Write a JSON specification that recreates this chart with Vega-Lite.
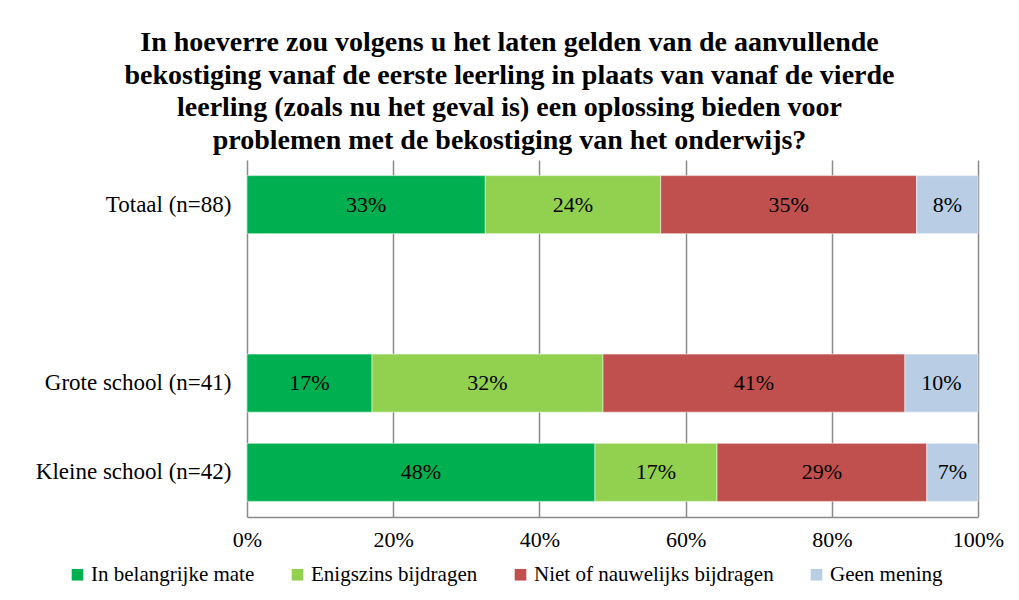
{
  "$schema": "https://vega.github.io/schema/vega-lite/v6.json",
  "width": 731,
  "height": 357,
  "padding": {"left": 5, "top": 28, "right": 5, "bottom": 5},
  "background": "white",
  "config": {
    "font": "Liberation Serif",
    "view": {"stroke": null}
  },
  "title": {
    "text": [
      "In hoeverre zou volgens u het laten gelden van de aanvullende",
      "bekostiging vanaf de eerste leerling in plaats van vanaf de vierde",
      "leerling (zoals nu het geval is) een oplossing bieden voor",
      "problemen met de bekostiging van het onderwijs?"
    ],
    "font": "Liberation Serif",
    "fontSize": 28,
    "fontWeight": "bold",
    "lineHeight": 32.7,
    "color": "#000000",
    "anchor": "middle",
    "frame": "group",
    "dx": -103,
    "offset": 5
  },
  "data": {
    "values": [
      {"groep": "Totaal (n=88)", "antwoord": "In belangrijke mate", "k": 1, "pct": 32.6},
      {"groep": "Totaal (n=88)", "antwoord": "Enigszins bijdragen", "k": 2, "pct": 24.0},
      {"groep": "Totaal (n=88)", "antwoord": "Niet of nauwelijks bijdragen", "k": 3, "pct": 35.0},
      {"groep": "Totaal (n=88)", "antwoord": "Geen mening", "k": 4, "pct": 8.4},
      {"groep": "Grote school (n=41)", "antwoord": "In belangrijke mate", "k": 1, "pct": 17.1},
      {"groep": "Grote school (n=41)", "antwoord": "Enigszins bijdragen", "k": 2, "pct": 31.6},
      {"groep": "Grote school (n=41)", "antwoord": "Niet of nauwelijks bijdragen", "k": 3, "pct": 41.3},
      {"groep": "Grote school (n=41)", "antwoord": "Geen mening", "k": 4, "pct": 10.0},
      {"groep": "Kleine school (n=42)", "antwoord": "In belangrijke mate", "k": 1, "pct": 47.6},
      {"groep": "Kleine school (n=42)", "antwoord": "Enigszins bijdragen", "k": 2, "pct": 16.7},
      {"groep": "Kleine school (n=42)", "antwoord": "Niet of nauwelijks bijdragen", "k": 3, "pct": 28.7},
      {"groep": "Kleine school (n=42)", "antwoord": "Geen mening", "k": 4, "pct": 7.0}
    ]
  },
  "transform": [
    {"stack": "pct", "groupby": ["groep"], "sort": [{"field": "k", "order": "ascending"}], "offset": "normalize", "as": ["x0", "x1"]},
    {"calculate": "(datum.x0 + datum.x1) / 2", "as": "xm"},
    {"calculate": "format(datum.pct, '.0f') + '%'", "as": "lbl"}
  ],
  "encoding": {
    "y": {
      "field": "groep",
      "type": "nominal",
      "title": null,
      "scale": {
        "domain": ["Totaal (n=88)", " ", "Grote school (n=41)", "Kleine school (n=42)"],
        "paddingInner": 0.35,
        "paddingOuter": 0.175
      },
      "axis": {
        "labelFontSize": 23,
        "labelColor": "#000000",
        "labelPadding": 16,
        "ticks": false,
        "domain": false,
        "grid": false,
        "minExtent": 242,
        "labelLimit": 300
      }
    }
  },
  "layer": [
    {
      "mark": {"type": "bar", "stroke": "#ffffff", "strokeWidth": 1, "strokeOpacity": 0.5},
      "encoding": {
        "x": {
          "field": "x0",
          "type": "quantitative",
          "title": null,
          "scale": {"domain": [0, 1], "nice": false},
          "axis": {
            "values": [0, 0.2, 0.4, 0.6, 0.8, 1],
            "format": ".0%",
            "labelFontSize": 22,
            "labelColor": "#000000",
            "labelPadding": 12,
            "labelFlush": false,
            "ticks": false,
            "grid": true,
            "gridColor": "#8a8a8a",
            "gridWidth": 1.5,
            "domainColor": "#8a8a8a",
            "domainWidth": 1.5
          }
        },
        "x2": {"field": "x1"},
        "color": {
          "field": "antwoord",
          "type": "nominal",
          "sort": ["In belangrijke mate", "Enigszins bijdragen", "Niet of nauwelijks bijdragen", "Geen mening"],
          "scale": {
            "domain": ["In belangrijke mate", "Enigszins bijdragen", "Niet of nauwelijks bijdragen", "Geen mening"],
            "range": ["#00b050", "#92d050", "#c0504d", "#b9cde5"]
          },
          "legend": {
            "title": null,
            "orient": "none",
            "direction": "horizontal",
            "legendX": -180,
            "legendY": 404,
            "symbolType": "square",
            "symbolSize": 135,
            "symbolStrokeWidth": 0,
            "symbolOpacity": 1,
            "labelFontSize": 21,
            "labelColor": "#000000",
            "labelOffset": 3,
            "columnPadding": 32,
            "labelLimit": 400
          }
        }
      }
    },
    {
      "mark": {"type": "text", "fontSize": 22, "color": "#000000", "baseline": "middle", "align": "center"},
      "encoding": {
        "x": {"field": "xm", "type": "quantitative"},
        "text": {"field": "lbl", "type": "nominal"}
      }
    }
  ]
}
